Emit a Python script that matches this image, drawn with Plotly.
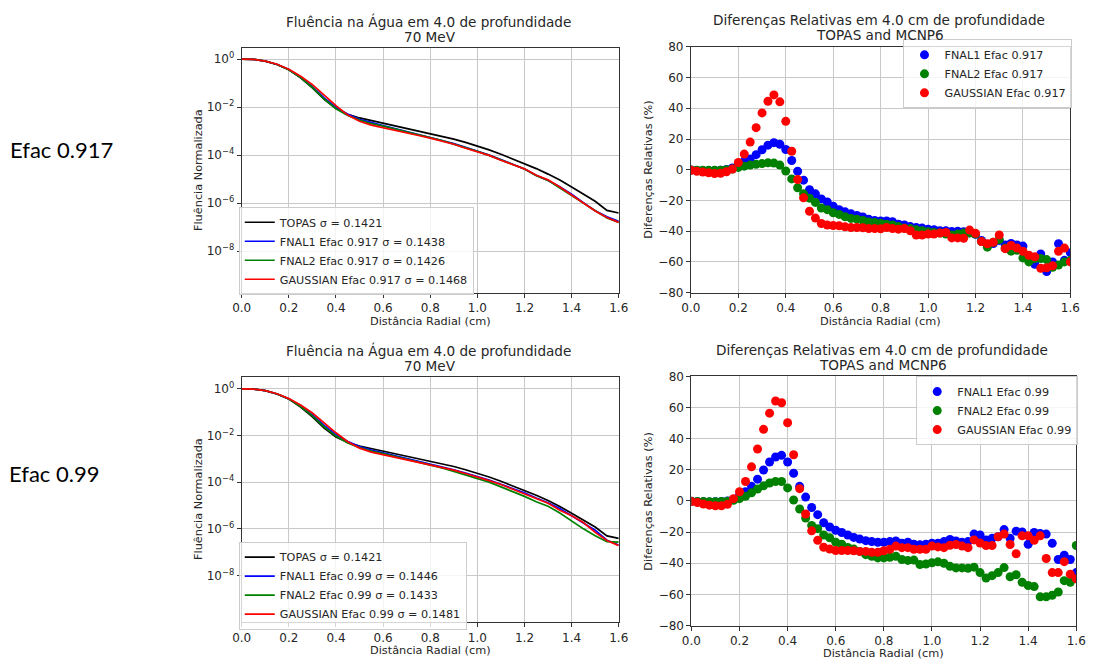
import numpy as np
import plotly.graph_objects as go

# ---------------- data ----------------
# radial positions (cm) for fluence lines
x_line = [0.00, 0.05, 0.10, 0.15, 0.20, 0.25, 0.30, 0.35, 0.40, 0.45, 0.50,
          0.55, 0.60, 0.65, 0.70, 0.75, 0.80, 0.85, 0.90, 0.95, 1.00, 1.05,
          1.10, 1.15, 1.20, 1.25, 1.30, 1.35, 1.40, 1.45, 1.50, 1.55, 1.60]

# fluence values read as log10 exponents
topas_log10 = [0, -0.01, -0.08, -0.22, -0.44, -0.78, -1.20, -1.68, -2.06, -2.30, -2.45,
               -2.56, -2.65, -2.75, -2.86, -2.97, -3.08, -3.20, -3.33, -3.47, -3.62, -3.78,
               -3.96, -4.15, -4.34, -4.56, -4.79, -5.04, -5.33, -5.62, -5.92, -6.30, -6.41]

fnal1_917_log10 = [0, -0.01, -0.08, -0.22, -0.43, -0.755, -1.15, -1.61, -2.01, -2.30, -2.51,
                   -2.65, -2.77, -2.89, -3.01, -3.14, -3.256, -3.38, -3.52, -3.675, -3.83, -4.00,
                   -4.18, -4.375, -4.58, -4.84, -5.06, -5.32, -5.63, -5.98, -6.32, -6.57, -6.76]
fnal2_917_log10 = [0, -0.01, -0.08, -0.22, -0.44, -0.77, -1.18, -1.66, -2.065, -2.35, -2.54,
                   -2.685, -2.79, -2.91, -3.03, -3.15, -3.267, -3.39, -3.54, -3.685, -3.845, -4.01,
                   -4.20, -4.38, -4.58, -4.86, -5.05, -5.37, -5.70, -6.00, -6.32, -6.62, -6.80]
gauss_917_log10 = [0, -0.01, -0.08, -0.21, -0.42, -0.71, -1.06, -1.51, -1.94, -2.33, -2.59,
                   -2.75, -2.85, -2.95, -3.07, -3.18, -3.29, -3.41, -3.545, -3.71, -3.86, -4.01,
                   -4.21, -4.40, -4.57, -4.84, -5.03, -5.33, -5.66, -5.99, -6.33, -6.60, -6.80]

fnal1_99_log10 = [0, -0.01, -0.08, -0.22, -0.43, -0.74, -1.12, -1.57, -1.96, -2.26, -2.47,
                  -2.625, -2.74, -2.86, -2.98, -3.10, -3.21, -3.33, -3.47, -3.61, -3.76, -3.905,
                  -4.09, -4.28, -4.45, -4.68, -4.88, -5.13, -5.44, -5.72, -6.06, -6.49, -6.69]
fnal2_99_log10 = [0, -0.01, -0.08, -0.22, -0.44, -0.76, -1.16, -1.63, -2.025, -2.323, -2.52,
                  -2.67, -2.78, -2.90, -3.03, -3.16, -3.28, -3.39, -3.54, -3.69, -3.84, -4.00,
                  -4.20, -4.39, -4.61, -4.84, -5.03, -5.32, -5.67, -6.00, -6.30, -6.55, -6.57]
gauss_99_log10 = [0, -0.01, -0.08, -0.21, -0.42, -0.694, -1.036, -1.465, -1.884, -2.267, -2.54,
                  -2.71, -2.82, -2.92, -3.03, -3.14, -3.25, -3.35, -3.485, -3.63, -3.77, -3.935,
                  -4.10, -4.30, -4.47, -4.70, -4.90, -5.20, -5.44, -5.73, -6.15, -6.50, -6.72]

# radial positions (cm) for relative differences
x_diff = [0.000, 0.025, 0.050, 0.075, 0.100, 0.125, 0.150, 0.175, 0.200, 0.225, 0.250,
          0.275, 0.300, 0.325, 0.350, 0.375, 0.400, 0.425, 0.450, 0.475, 0.500, 0.525,
          0.550, 0.575, 0.600, 0.625, 0.650, 0.675, 0.700, 0.725, 0.750, 0.775, 0.800,
          0.825, 0.850, 0.875, 0.900, 0.925, 0.950, 0.975, 1.000, 1.025, 1.050, 1.075,
          1.100, 1.125, 1.150, 1.175, 1.200, 1.225, 1.250, 1.275, 1.300, 1.325, 1.350,
          1.375, 1.400, 1.425, 1.450, 1.475, 1.500, 1.525, 1.550, 1.575, 1.600]

diff_fnal1_917 = [-0.2, -0.5, -0.5, -0.6, -0.5, -0.3, 0.2, 1.2, 3.0, 5.5, 7.0,
                  9.8, 13.0, 16.0, 17.6, 16.6, 13.2, 6.0, -1.0, -6.8, -13.0, -15.7,
                  -19.0, -21.0, -23.8, -26.0, -27.4, -28.7, -29.8, -30.8, -32.3, -33.0, -33.4,
                  -33.4, -33.8, -35.5, -36.0, -37.0, -37.6, -38.0, -38.7, -39.0, -39.7, -39.7,
                  -40.2, -40.0, -40.4, -41.0, -42.0, -46.0, -48.5, -48.0, -46.0, -49.0, -48.0,
                  -49.0, -49.7, -56.0, -61.6, -54.8, -66.3, -60.0, -48.2, -59.0, -54.0]
diff_fnal2_917 = [-0.2, -0.3, -0.3, -0.4, -0.4, -0.3, 0.0, 0.5, 1.5, 2.3, 3.0,
                  3.5, 4.0, 4.5, 4.3, 3.0, -0.8, -6.0, -11.7, -15.7, -18.5, -21.3,
                  -24.9, -26.0, -28.0, -29.1, -30.6, -31.7, -32.3, -33.0, -34.0, -34.4, -34.9,
                  -35.5, -36.0, -37.0, -38.0, -38.3, -39.0, -39.7, -40.4, -40.8, -41.2, -41.9,
                  -42.5, -41.9, -41.2, -41.2, -41.9, -46.8, -50.4, -47.2, -45.5, -51.0, -53.0,
                  -52.5, -57.4, -60.0, -57.8, -57.8, -58.5, -63.5, -62.0, -60.0, -59.0]
diff_gauss_917 = [-0.4, -1.0, -1.5, -2.0, -2.5, -2.3, -1.3, 0.4, 4.7, 10.2, 18.0,
                  27.4, 37.0, 44.6, 48.7, 44.2, 31.5, 12.0, -6.4, -18.3, -27.0, -31.5,
                  -35.0, -36.0, -36.3, -36.5, -37.2, -37.6, -37.6, -37.8, -38.3, -38.3, -38.5,
                  -37.6, -38.3, -38.7, -38.3, -39.7, -42.5, -42.5, -41.9, -41.9, -41.2, -40.8,
                  -44.4, -44.4, -44.6, -39.3, -41.4, -46.8, -48.2, -47.2, -42.5, -51.4, -49.3,
                  -51.0, -53.1, -55.7, -56.7, -64.2, -63.8, -62.5, -53.1, -51.0, -60.0]

diff_fnal1_99 = [-0.2, -0.5, -0.5, -0.6, -0.5, -0.3, 0.0, 1.0, 3.5, 5.9, 9.4,
                 14.0, 19.9, 25.0, 28.2, 29.3, 25.0, 17.8, 9.4, 2.5, -4.2, -8.8,
                 -14.0, -16.7, -18.8, -20.3, -21.9, -23.4, -24.5, -25.5, -26.1, -26.5, -26.5,
                 -26.1, -25.7, -27.2, -26.5, -27.8, -28.2, -27.8, -27.2, -27.2, -26.1, -24.7,
                 -25.7, -26.5, -26.1, -21.3, -21.9, -25.1, -24.0, -23.0, -18.4, -24.0, -19.4,
                 -19.9, -27.8, -20.3, -20.9, -21.3, -27.2, -37.6, -34.9, -37.6, -46.0]
diff_fnal2_99 = [-0.2, -0.3, -0.4, -0.5, -0.5, -0.4, -0.2, 0.4, 1.5, 3.0, 5.2,
                 7.7, 9.8, 11.5, 12.5, 12.5, 8.4, 0.6, -5.2, -11.0, -15.7, -17.8,
                 -21.9, -23.6, -26.5, -27.8, -29.9, -30.9, -32.4, -34.5, -35.5, -36.6, -36.6,
                 -36.2, -35.5, -37.6, -38.2, -38.0, -40.8, -40.5, -39.7, -39.1, -40.0, -42.0,
                 -43.0, -43.0, -43.3, -42.5, -46.0, -49.5, -48.0, -46.0, -42.8, -48.7, -47.4,
                 -52.2, -54.3, -55.0, -61.6, -61.6, -60.6, -58.5, -51.2, -52.2, -28.6]
diff_gauss_99 = [-0.4, -1.0, -2.0, -2.7, -3.1, -3.1, -2.1, 1.5, 5.9, 12.5, 21.9,
                 33.4, 46.0, 56.4, 64.2, 63.1, 50.2, 29.7, 7.9, -8.4, -19.2, -25.3,
                 -29.7, -30.9, -31.8, -31.8, -31.8, -32.0, -32.4, -32.4, -33.0, -33.0, -32.0,
                 -31.0, -29.0, -30.0, -30.0, -31.0, -31.0, -31.0, -29.0, -29.5, -30.0, -28.5,
                 -28.0, -29.0, -30.0, -25.0, -27.0, -28.6, -28.6, -23.0, -21.3, -28.0, -33.9,
                 -22.4, -22.4, -25.3, -22.4, -37.0, -46.0, -46.0, -39.0, -47.0, -50.0]

x_ticks = [0.0, 0.2, 0.4, 0.6, 0.8, 1.0, 1.2, 1.4, 1.6]
log_tick_vals = [1, 1e-2, 1e-4, 1e-6, 1e-8]
log_tick_text = ["10<sup>0</sup>", "10<sup>\u22122</sup>", "10<sup>\u22124</sup>",
                 "10<sup>\u22126</sup>", "10<sup>\u22128</sup>"]
diff_ticks = [-80, -60, -40, -20, 0, 20, 40, 60, 80]

# ---------------- figure ----------------
W, H = 1101, 670
FONT = "DejaVu Sans"
TXT = "#262626"

def px_x(p):
    return p / W

def px_y(p):
    return 1 - p / H

fig = go.Figure()

line_w = 1.7
def add_lines(xa, ya, leg, series):
    for name, ylog, col in series:
        fig.add_trace(go.Scatter(
            x=x_line, y=10 ** np.array(ylog), mode="lines", name=name,
            line=dict(color=col, width=line_w), xaxis=xa, yaxis=ya, legend=leg))

def add_points(xa, ya, leg, series):
    for name, yv, col in series:
        fig.add_trace(go.Scatter(
            x=x_diff, y=yv, mode="markers", name=name,
            marker=dict(color=col, size=9, line=dict(width=0)),
            xaxis=xa, yaxis=ya, legend=leg))

add_lines("x", "y", "legend", [
    ("TOPAS \u03c3 = 0.1421", topas_log10, "black"),
    ("FNAL1 Efac 0.917 \u03c3 = 0.1438", fnal1_917_log10, "blue"),
    ("FNAL2 Efac 0.917 \u03c3 = 0.1426", fnal2_917_log10, "green"),
    ("GAUSSIAN Efac 0.917 \u03c3 = 0.1468", gauss_917_log10, "red"),
])
add_points("x2", "y2", "legend2", [
    ("FNAL1 Efac 0.917", diff_fnal1_917, "blue"),
    ("FNAL2 Efac 0.917", diff_fnal2_917, "green"),
    ("GAUSSIAN Efac 0.917", diff_gauss_917, "red"),
])
add_lines("x3", "y3", "legend3", [
    ("TOPAS \u03c3 = 0.1421", topas_log10, "black"),
    ("FNAL1 Efac 0.99 \u03c3 = 0.1446", fnal1_99_log10, "blue"),
    ("FNAL2 Efac 0.99 \u03c3 = 0.1433", fnal2_99_log10, "green"),
    ("GAUSSIAN Efac 0.99 \u03c3 = 0.1481", gauss_99_log10, "red"),
])
add_points("x4", "y4", "legend4", [
    ("FNAL1 Efac 0.99", diff_fnal1_99, "blue"),
    ("FNAL2 Efac 0.99", diff_fnal2_99, "green"),
    ("GAUSSIAN Efac 0.99", diff_gauss_99, "red"),
])

common_axis = dict(showline=True, linecolor="#333333", linewidth=1, mirror=True,
                   ticks="outside", ticklen=4, tickcolor="#333333", tickwidth=1,
                   showgrid=True, gridcolor="#c8c8c8", gridwidth=1, zeroline=False,
                   tickfont=dict(family=FONT, size=12, color=TXT))

def xaxis(domain, anchor):
    return dict(domain=domain, anchor=anchor, range=[0, 1.6], tickvals=x_ticks,
                tickformat=".1f", **common_axis)

layout = dict(
    width=W, height=H, margin=dict(l=0, r=0, t=0, b=0),
    paper_bgcolor="white", plot_bgcolor="white",
    font=dict(family=FONT, color=TXT),
    xaxis=xaxis([px_x(236), px_x(620)], "y"),
    yaxis=dict(domain=[px_y(292), px_y(42)], anchor="x", type="log",
               range=[-9.74, 0.46], tickvals=log_tick_vals, ticktext=log_tick_text,
               **common_axis),
    xaxis2=xaxis([px_x(693.5), px_x(1080)], "y2"),
    yaxis2=dict(domain=[px_y(291.7), px_y(40.7)], anchor="x2", range=[-80, 80],
                tickvals=diff_ticks, **common_axis),
    xaxis3=xaxis([px_x(236), px_x(620)], "y3"),
    yaxis3=dict(domain=[px_y(628.3), px_y(378.3)], anchor="x3", type="log",
                range=[-10.0, 0.49], tickvals=log_tick_vals, ticktext=log_tick_text,
                **common_axis),
    xaxis4=xaxis([px_x(694), px_x(1086)], "y4"),
    yaxis4=dict(domain=[px_y(631.7), px_y(377.3)], anchor="x4", range=[-80, 80],
                tickvals=diff_ticks, **common_axis),
)

leg_common = dict(bgcolor="rgba(255,255,255,0.8)", bordercolor="#cccccc", borderwidth=1,
                  font=dict(family=FONT, size=11.2, color=TXT), tracegroupgap=0,
                  itemwidth=30, xanchor="left", yanchor="top")
layout["legend"] = dict(x=px_x(233), y=px_y(204), **leg_common)
layout["legend2"] = dict(x=px_x(910), y=px_y(33), **leg_common)
layout["legend3"] = dict(x=px_x(233), y=px_y(546), **leg_common)
layout["legend4"] = dict(x=px_x(923), y=px_y(377), **leg_common)

fig.update_layout(**layout)

def ann(text, x, y, size, angle=0, family=FONT, color=TXT):
    fig.add_annotation(text=text, x=px_x(x), y=px_y(y), xref="paper", yref="paper",
                       showarrow=False, textangle=angle, xanchor="center", yanchor="middle",
                       font=dict(family=family, size=size, color=color))

# titles
TS = 13.6
ann("Flu\u00eancia na \u00c1gua em 4.0 de profundidade", 426, 15, TS)
ann("70 MeV", 428, 31, TS)
ann("Diferen\u00e7as Relativas em 4.0 cm de profundidade", 885, 13, TS)
ann("TOPAS and MCNP6", 886, 29, TS)
ann("Flu\u00eancia na \u00c1gua em 4.0 de profundidade", 426, 351, TS)
ann("70 MeV", 428, 367, TS)
ann("Diferen\u00e7as Relativas em 4.0 cm de profundidade", 888, 350, TS)
ann("TOPAS and MCNP6", 889, 366, TS)

# axis labels
AS = 11.3
ann("Dist\u00e2ncia Radial (cm)", 428, 321, AS)
ann("Dist\u00e2ncia Radial (cm)", 887, 321, AS)
ann("Dist\u00e2ncia Radial (cm)", 428, 657, AS)
ann("Dist\u00e2ncia Radial (cm)", 890, 660, AS)
ann("Flu\u00eancia Normalizada", 192, 167, AS, angle=-90)
ann("Flu\u00eancia Normalizada", 192, 503, AS, angle=-90)
ann("Diferen\u00e7as Relativas (%)", 650, 166, AS, angle=-90)
ann("Diferen\u00e7as Relativas (%)", 650, 505, AS, angle=-90)

# row labels
ann("Efac 0.917", 52.5, 146, 22, family="Lato", color="black")
ann("Efac 0.99", 44.5, 476, 22, family="Lato", color="black")

fig.write_html("out.html")
